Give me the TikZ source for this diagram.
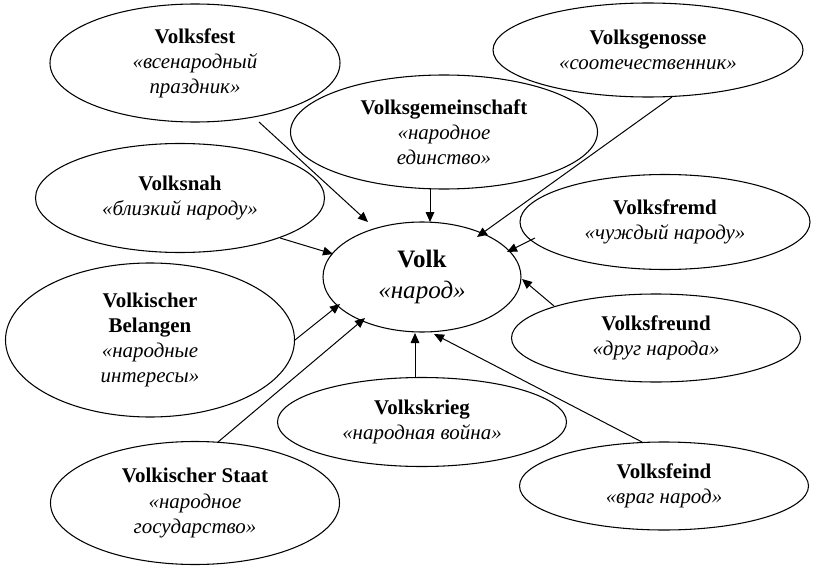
\documentclass[tikz,border=0pt]{standalone}
\usepackage{fontspec}
\setmainfont{Liberation Serif}
\usetikzlibrary{shapes.geometric,arrows.meta}
\begin{document}
\begin{tikzpicture}[x=0.75pt,y=-0.75pt,
  el/.style 2 args={ellipse,draw,line width=0.8pt,inner sep=0pt,
    minimum width=#1*0.75pt,minimum height=#2*0.75pt,align=center,
    font=\fontsize{15.7}{18.8}\selectfont},
  big/.style={font=\fontsize{18.8}{23.5}\selectfont},
  arr/.style={line width=0.75pt,-{Triangle[length=7.5pt,width=6.5pt]}}]
\useasboundingbox (0,0) rectangle (814,567);
% ellipses
\node[el={290}{118}] (fest) at (195,63) {\textbf{Volksfest}\\\textit{«всенародный}\\\textit{праздник»}};
\node[el={310}{94}] (genosse) at (648,50) {\textbf{Volksgenosse}\\\textit{«соотечественник»}};
\node[el={307}{114}] (gemein) at (444,132) {\textbf{Volksgemeinschaft}\\\textit{«народное}\\\textit{единство»}};
\node[el={289}{109}] (nah) at (180,198) {\textbf{Volksnah}\\\textit{«близкий народу»}};
\node[el={290}{95}] (fremd) at (665,222) {\textbf{Volksfremd}\\\textit{«чуждый народу»}};
\node[el={198}{110},big] (volk) at (422,277) {\textbf{Volk}\\\textit{«народ»}};
\node[el={289}{154}] (belang) at (150,340) {\textbf{Volkischer}\\\textbf{Belangen}\\\textit{«народные}\\\textit{интересы»}};
\node[el={289}{88}] (freund) at (656,338) {\textbf{Volksfreund}\\\textit{«друг народа»}};
\node[el={289}{89}] (krieg) at (422,422) {\textbf{Volkskrieg}\\\textit{«народная война»}};
\node[el={289}{88}] (feind) at (664,486) {\textbf{Volksfeind}\\\textit{«враг народ»}};
\node[el={289}{123}] (staat) at (195,503) {\textbf{Volkischer Staat}\\\textit{«народное}\\\textit{государство»}};
% connector end points
\coordinate (festS) at (259,122);   \coordinate (festT) at (368,222);
\coordinate (gemS) at (430,188);    \coordinate (gemT) at (430,222);
\coordinate (genS) at (672,97);     \coordinate (genT) at (477,237);
\coordinate (nahS) at (280,238);    \coordinate (nahT) at (333,254);
\coordinate (fremS) at (535,238);   \coordinate (fremT) at (507,252);
\coordinate (freuS) at (554,306);   \coordinate (freuT) at (522,279);
\coordinate (belS) at (295,340);    \coordinate (belT) at (340,304);
\coordinate (staS) at (218,442);    \coordinate (staT) at (365,318);
\coordinate (kriS) at (415,378);    \coordinate (kriT) at (415,333);
\coordinate (feiS) at (642,442);    \coordinate (feiT) at (434,334);
% connectors
\draw[arr] (festS) -- (festT);
\draw[arr] (gemS) -- (gemT);
\draw[arr] (genS) -- (genT);
\draw[arr] (nahS) -- (nahT);
\draw[arr] (fremS) -- (fremT);
\draw[arr] (freuS) -- (freuT);
\draw[arr] (belS) -- (belT);
\draw[arr] (staS) -- (staT);
\draw[arr] (kriS) -- (kriT);
\draw[arr] (feiS) -- (feiT);
\end{tikzpicture}
\end{document}
